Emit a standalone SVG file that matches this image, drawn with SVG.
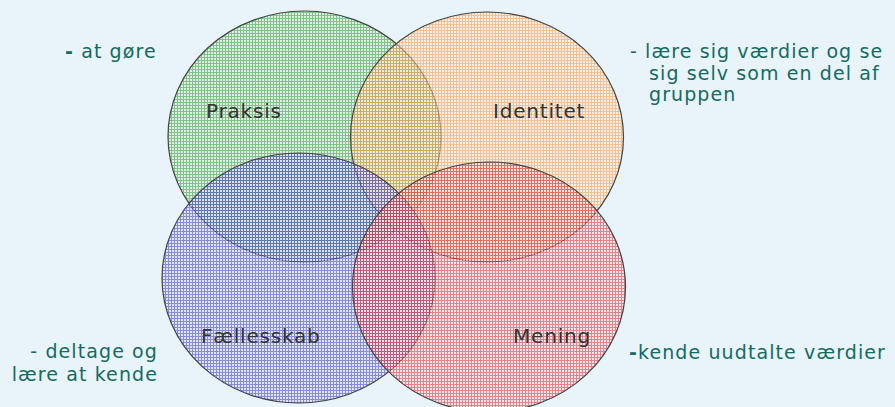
<svg xmlns="http://www.w3.org/2000/svg" width="895" height="407" viewBox="0 0 895 407">
<defs>
<pattern id="pg" width="3" height="3" patternUnits="userSpaceOnUse"><rect width="3" height="3" fill="#d8ecd8"/><rect width="3" height="1" fill="#3fa03f"/><rect width="1" height="3" fill="#3fa03f"/></pattern>
<pattern id="po" width="3" height="3" patternUnits="userSpaceOnUse"><rect width="3" height="3" fill="#fbeadb"/><rect width="3" height="1" fill="#f6a050"/><rect width="1" height="3" fill="#f6a050"/></pattern>
<pattern id="pb" width="3" height="3" patternUnits="userSpaceOnUse"><rect width="3" height="3" fill="#d8d8f2"/><rect width="3" height="1" fill="#4848c0"/><rect width="1" height="3" fill="#4848c0"/></pattern>
<pattern id="pr" width="3" height="3" patternUnits="userSpaceOnUse"><rect width="3" height="3" fill="#f8dcdd"/><rect width="3" height="1" fill="#d83a40"/><rect width="1" height="3" fill="#d83a40"/></pattern>
</defs>
<style>
.c{stroke:#444;stroke-width:1.2;fill-opacity:0.6}
.lab{font-family:"DejaVu Sans",Verdana,sans-serif;font-size:20px;fill:#333;letter-spacing:0.8px}
.side{font-family:"DejaVu Sans",Verdana,sans-serif;font-size:19px;fill:#146b5e;letter-spacing:1.1px}
.b{font-weight:bold}
</style>
<rect width="895" height="407" fill="#e8f3fa"/>
<g id="praksis"><ellipse class="c" cx="304.5" cy="136.5" rx="136.5" ry="125.5" fill="url(#pg)"/></g>
<g id="identitet"><ellipse class="c" cx="487" cy="137" rx="136.5" ry="125" fill="url(#po)"/></g>
<g id="faellesskab"><ellipse class="c" cx="298.5" cy="278" rx="136.5" ry="125" fill="url(#pb)"/></g>
<g id="mening"><ellipse class="c" cx="489" cy="287" rx="136.5" ry="125" fill="url(#pr)"/></g>
<g id="labels">
<text class="lab" x="206" y="118">Praksis</text>
<text class="lab" x="493" y="118">Identitet</text>
<text class="lab" x="201" y="343">Fællesskab</text>
<text class="lab" x="513" y="343">Mening</text>
</g>
<g id="notes">
<text class="side" x="65" y="58"><tspan class="b">-</tspan> at gøre</text>
<text class="side" x="630" y="58">- lære sig værdier og se</text>
<text class="side" x="649" y="80">sig selv som en del af</text>
<text class="side" x="649" y="101">gruppen</text>
<text class="side" x="158" y="358" text-anchor="end">- deltage og</text>
<text class="side" x="158" y="381" text-anchor="end">lære at kende</text>
<text class="side" x="629" y="359"><tspan class="b">-</tspan>kende uudtalte værdier</text>
</g>
</svg>
